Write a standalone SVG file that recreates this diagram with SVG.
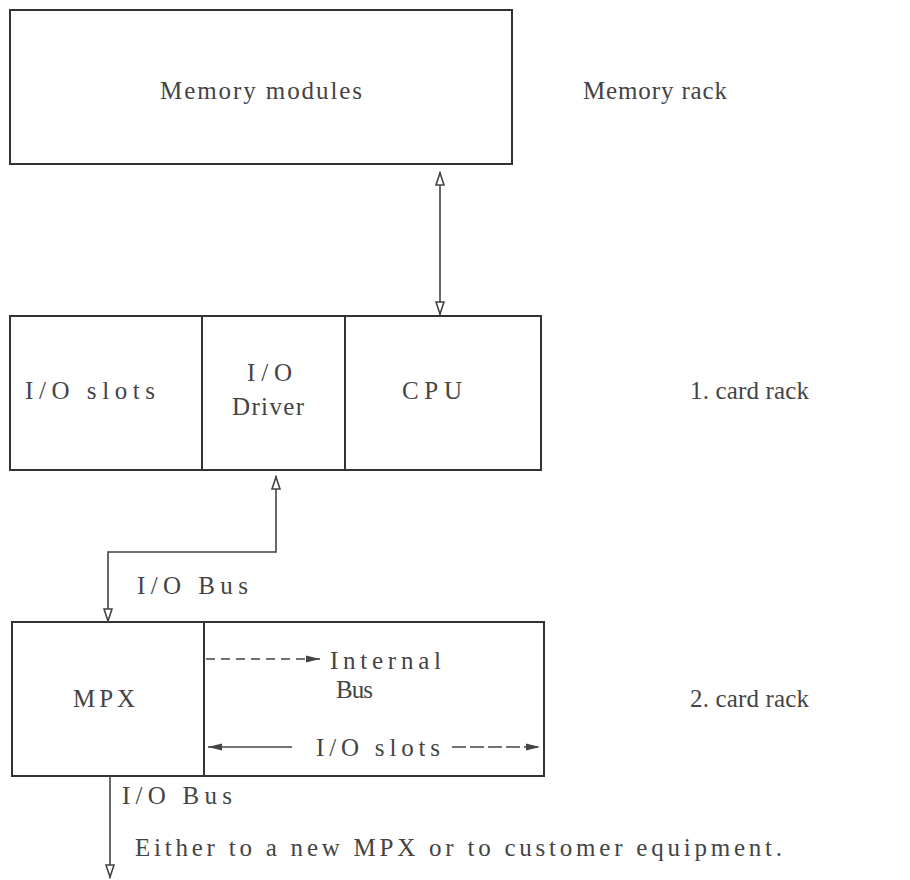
<svg xmlns="http://www.w3.org/2000/svg" width="910" height="880" viewBox="0 0 910 880">
<style>
.b{fill:none;stroke:#333;stroke-width:2}
.l{fill:none;stroke:#444;stroke-width:1.6}
text{font-family:"Times New Roman",Times,"Liberation Serif","DejaVu Serif",serif;font-size:25px;fill:#444}
</style>
<defs>
<marker id="oa" viewBox="0 0 14 10" refX="14" refY="5" markerWidth="16" markerHeight="10" markerUnits="userSpaceOnUse" orient="auto-start-reverse"><path d="M1,1 L13,5 L1,9 Z" fill="#fff" stroke="#444" stroke-width="1.6"/></marker>
<marker id="fa" viewBox="0 0 14 10" refX="14" refY="5" markerWidth="16" markerHeight="10" markerUnits="userSpaceOnUse" orient="auto-start-reverse"><path d="M0,1.5 L14,5 L0,8.5 Z" fill="#444"/></marker>
</defs>
<rect width="910" height="880" fill="#fff"/>
<g id="memory">
<rect class="b" x="10" y="10" width="502" height="154"/>
<text x="160" y="99" textLength="202" lengthAdjust="spacing">Memory modules</text>
</g>
<text x="583" y="99" textLength="144" lengthAdjust="spacing">Memory rack</text>
<g id="rack1">
<rect class="b" x="10" y="316" width="531" height="154"/>
<line class="b" x1="202" y1="316" x2="202" y2="470"/>
<line class="b" x1="345" y1="316" x2="345" y2="470"/>
</g>
<g id="ioslots1"><text x="25" y="399" textLength="130" lengthAdjust="spacing">I/O slots</text></g>
<g id="driver"><text x="247" y="381" textLength="45" lengthAdjust="spacing">I/O</text><text x="232" y="415" textLength="72" lengthAdjust="spacing">Driver</text></g>
<g id="cpu"><text x="402" y="399" textLength="60" lengthAdjust="spacing">CPU</text></g>
<text x="690" y="399" textLength="119" lengthAdjust="spacing">1. card rack</text>
<g id="rack2">
<rect class="b" x="12" y="622" width="532" height="154"/>
<line class="b" x1="204" y1="622" x2="204" y2="776"/>
</g>
<g id="mpx"><text x="73" y="707" textLength="62" lengthAdjust="spacing">MPX</text></g>
<g id="internal"><text x="330" y="669" textLength="111" lengthAdjust="spacing">Internal</text><text x="336" y="698" textLength="37" lengthAdjust="spacing">Bus</text></g>
<g id="ioslots2"><text x="316" y="756" textLength="124" lengthAdjust="spacing">I/O slots</text></g>
<text x="690" y="707" textLength="119" lengthAdjust="spacing">2. card rack</text>
<g id="connectors">
<line class="l" x1="440" y1="172" x2="440" y2="315" marker-start="url(#oa)" marker-end="url(#oa)"/>
<polyline class="l" points="276,476 276,552 108,552 108,622" marker-start="url(#oa)" marker-end="url(#oa)"/>
<line class="l" x1="206" y1="659" x2="320" y2="659" stroke-dasharray="9,6" marker-end="url(#fa)"/>
<line class="l" x1="292" y1="747" x2="208" y2="747" marker-end="url(#fa)"/>
<line class="l" x1="452" y1="747" x2="540" y2="747" stroke-dasharray="14,4" marker-end="url(#fa)"/>
<line class="l" x1="110" y1="776" x2="110" y2="878" marker-end="url(#oa)"/>
</g>
<text x="137" y="594" textLength="111" lengthAdjust="spacing">I/O Bus</text>
<text x="122" y="804" textLength="110" lengthAdjust="spacing">I/O Bus</text>
<text x="135" y="856" textLength="647" lengthAdjust="spacing">Either to a new MPX or to customer equipment.</text>
</svg>
